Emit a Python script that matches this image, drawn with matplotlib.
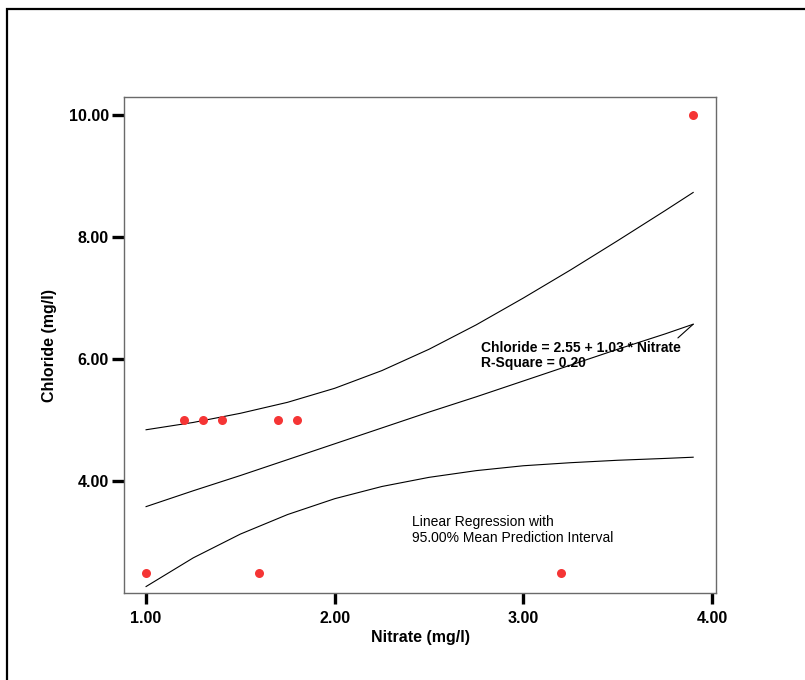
import matplotlib
matplotlib.use("Agg")
from matplotlib import pyplot as plt
from matplotlib.patches import Rectangle

plt.rcParams["font.family"] = ["Liberation Sans", "DejaVu Sans"]

# observed points
nitrate = [1.0, 1.2, 1.3, 1.4, 1.6, 1.7, 1.8, 3.2, 3.9]
chloride = [2.5, 5.0, 5.0, 5.0, 2.5, 5.0, 5.0, 2.5, 10.0]

# fit line and 95% mean prediction interval
grid_x = [1.0, 1.25, 1.5, 1.75, 2.0, 2.25, 2.5, 2.75, 3.0, 3.25, 3.5, 3.75, 3.9]
fit_mid = [3.58, 3.84, 4.09, 4.35, 4.61, 4.87, 5.13, 5.38, 5.64, 5.90, 6.16, 6.41, 6.57]
fit_upper = [4.84, 4.96, 5.11, 5.29, 5.52, 5.81, 6.16, 6.56, 7.00, 7.46, 7.94, 8.43, 8.73]
fit_lower = [2.27, 2.74, 3.13, 3.45, 3.71, 3.91, 4.06, 4.17, 4.25, 4.30, 4.34, 4.37, 4.39]

x_ticks = [1.0, 2.0, 3.0, 4.0]
y_ticks = [4.0, 6.0, 8.0, 10.0]

fig = plt.figure(figsize=(8.05, 6.8), dpi=100)
ax = fig.add_axes([124 / 805, 1 - 593 / 680, 592 / 805, 496 / 680])

# outer frame (runs off the right and bottom edge)
fig.patches.append(Rectangle((7 / 805, -0.5), 2.0, 1.5 - 9 / 680,
                             transform=fig.transFigure, fill=False,
                             edgecolor="black", linewidth=1.6))

ax.plot(grid_x, fit_upper, color="black", lw=0.8)
ax.plot(grid_x, fit_mid, color="black", lw=0.8)
ax.plot(grid_x, fit_lower, color="black", lw=0.8)
ax.plot(nitrate, chloride, "o", color="#f53535", ms=6.5, mec="none", zorder=3)

ax.set_xlim(0.883, 4.021)
ax.set_ylim(2.164, 10.295)
ax.set_xticks(x_ticks)
ax.set_yticks(y_ticks)
ax.set_xticklabels([f"{v:.2f}" for v in x_ticks], fontweight="bold", fontsize=11.5)
ax.set_yticklabels([f"{v:.2f}" for v in y_ticks], fontweight="bold", fontsize=11.5)
ax.tick_params(axis="x", length=8, width=2.4, pad=5, color="black")
ax.tick_params(axis="y", length=9, width=2.4, pad=2, color="black")

for s in ax.spines.values():
    s.set_color("#6a6a6a")
    s.set_linewidth(1.0)

ax.set_xlabel("Nitrate (mg/l)", fontweight="bold", fontsize=11.5)
ax.set_ylabel("Chloride (mg/l)", fontweight="bold", fontsize=11.5)
ax.xaxis.set_label_coords(0.5, -0.074)
ax.yaxis.set_label_coords(-0.113, 0.5)

ax.annotate("Chloride = 2.55 + 1.03 * Nitrate\nR-Square = 0.20",
            xy=(grid_x[-1], fit_mid[-1]), xytext=(2.775, 6.30),
            ha="left", va="top", fontsize=10, fontweight="bold",
            linespacing=1.15,
            arrowprops=dict(arrowstyle="-", color="black", lw=0.8,
                            relpos=(0.97, 1.0), shrinkA=0, shrinkB=0))

ax.text(2.41, 3.20, "Linear Regression with\n95.00% Mean Prediction Interval",
        ha="left", va="center", fontsize=10, linespacing=1.15)

fig.savefig("out.png", dpi=100)
